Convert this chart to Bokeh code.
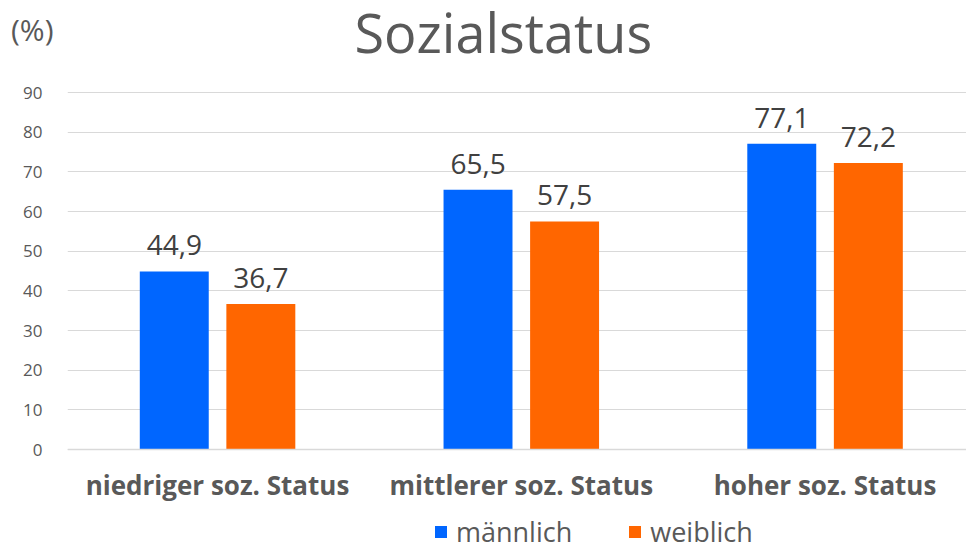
from bokeh.plotting import figure
from bokeh.models import (ColumnDataSource, Range1d, FixedTicker, LabelSet,
                          Legend, LegendItem, Label, LinearAxis, Span)
from bokeh.core.properties import value
from bokeh.transform import dodge
from bokeh.embed import file_html
from bokeh.resources import INLINE

categories = ["niedriger soz. Status", "mittlerer soz. Status", "hoher soz. Status"]
maennlich = [44.9, 65.5, 77.1]
weiblich = [36.7, 57.5, 72.2]
series_names = ["männlich", "weiblich"]
y_ticks = [0, 10, 20, 30, 40, 50, 60, 70, 80, 90]
title_text = "Sozialstatus"
unit_text = "(%)"

BLUE = "#0066FF"
ORANGE = "#FF6600"
GRID = "#D9D9D9"
TXT = "#595959"
LBL = "#404040"
FONT = "Open Sans"

PX_PER_UNIT = 357 / 90.0      # vertical scale
CAT_PX = 303.75               # width of one category
FRAME_W, FRAME_H = 899, 550
ZERO_PX = 449                 # pixel row of the value 0
X0 = -0.494
UNIT_POS = 106                # where the unit label sits on the axis
TITLE_Y = 105.2

def fmt(v):
    return f"{v:.1f}".replace(".", ",")

idx = list(range(len(categories)))
source = ColumnDataSource(dict(
    idx=idx,
    cat=categories,
    zero=[0] * len(categories),
    m=maennlich,
    w=weiblich,
    m_txt=[fmt(v) for v in maennlich],
    w_txt=[fmt(v) for v in weiblich],
))

p = figure(frame_width=FRAME_W, frame_height=FRAME_H, output_backend="svg", toolbar_location=None,
           x_range=Range1d(X0, X0 + FRAME_W / CAT_PX),
           y_range=Range1d(-(FRAME_H - ZERO_PX) / PX_PER_UNIT, ZERO_PX / PX_PER_UNIT),
           x_axis_location=None,
           min_border_left=67, min_border_right=0, min_border_top=0, min_border_bottom=0)

off = 0.1425
bw = 0.227
r_m = p.vbar(x=dodge("idx", -off), top="m", width=bw, source=source,
             fill_color=BLUE, line_color=None)
r_w = p.vbar(x=dodge("idx", off), top="w", width=bw, source=source,
             fill_color=ORANGE, line_color=None)

for col, txt, o in (("m", "m_txt", -off), ("w", "w_txt", off)):
    ls = LabelSet(x=dodge("idx", o), y=col, text=txt, source=source,
                  text_align="center", text_baseline="alphabetic", y_offset=16,
                  text_font=value(FONT), text_font_size="28px", text_color=LBL)
    p.add_layout(ls)

cat_labels = LabelSet(x="idx", y="zero", text="cat", source=source,
                      text_align="center", text_baseline="alphabetic", y_offset=-45,
                      text_font=value(FONT), text_font_size="26px",
                      text_font_style="bold", text_color=TXT)
p.add_layout(cat_labels)

title = Label(x=idx[1], y=TITLE_Y, x_offset=-18,
              text=title_text, text_align="center", text_baseline="alphabetic",
              text_font=FONT, text_font_size="54px", text_color=TXT)
p.add_layout(title)

p.outline_line_color = None
p.xgrid.grid_line_color = None
p.ygrid.ticker = FixedTicker(ticks=y_ticks)
p.ygrid.grid_line_color = GRID
p.ygrid.grid_line_width = 1
p.add_layout(Span(location=0, dimension="width", line_color=GRID, line_width=1.5))

p.yaxis.ticker = FixedTicker(ticks=y_ticks)
p.yaxis.axis_line_color = None
p.yaxis.major_tick_line_color = None
p.yaxis.minor_tick_line_color = None
p.yaxis.major_label_text_font = FONT
p.yaxis.major_label_text_font_size = "17px"
p.yaxis.major_label_text_color = TXT
p.yaxis.major_label_standoff = 19

unit_axis = LinearAxis(ticker=FixedTicker(ticks=[UNIT_POS]),
                       major_label_overrides={UNIT_POS: unit_text},
                       axis_line_color=None, major_tick_line_color=None,
                       minor_tick_line_color=None, major_label_standoff=-39,
                       major_label_text_font=FONT, major_label_text_font_size="30px",
                       major_label_text_color=TXT)
p.add_layout(unit_axis, "left")

legend = Legend(items=[LegendItem(label=series_names[0], renderers=[r_m]),
                       LegendItem(label=series_names[1], renderers=[r_w])],
                orientation="horizontal", location=(366, 0),
                label_text_font=FONT, label_text_font_size="27px", label_text_color=TXT,
                glyph_width=15, glyph_height=15, spacing=55, label_standoff=8,
                border_line_color=None, background_fill_color=None,
                padding=0, margin=0)
p.add_layout(legend)

open("out.html", "w").write(file_html(p, INLINE))
